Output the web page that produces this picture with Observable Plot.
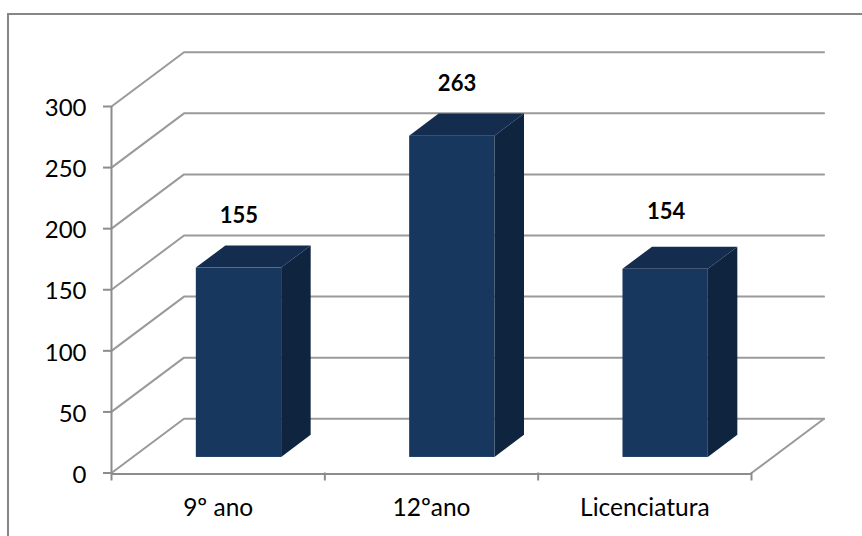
<!DOCTYPE html>
<html>
<head>
<meta charset="utf-8">
<script src="https://cdn.jsdelivr.net/npm/d3@7"></script>
<script src="https://cdn.jsdelivr.net/npm/@observablehq/plot@0.6"></script>
<style>
  html, body { margin: 0; padding: 0; background: #fff; overflow: hidden; }
  #chart { position: relative; width: 862px; height: 536px; }
  #chart svg { position: absolute; left: 0; top: 0; overflow: visible; }
  /* chart area outline: open on the right and bottom sides */
  #outline { position: absolute; left: 7px; top: 13px; right: 0; bottom: 0;
             border-top: 2px solid #868686; border-left: 2px solid #868686; }
</style>
</head>
<body>
<div id="chart"><div id="outline"></div></div>
<script>
// Respondents by education level
const categories = ["9º ano", "12ºano", "Licenciatura"];
const counts = [155, 263, 154];
const valueTicks = [0, 50, 100, 150, 200, 250, 300];

// Oblique projection: a point at depth d (0 front wall, 1 back wall)
// shifts right and upward in data units.
const depthX = 0.34;
const depthY = 44.4;
const project = (x, y, d) => ({x: x + d * depthX, y: y + d * depthY});

// Bars occupy the middle of each slot and a band of the floor's depth
const barStart = 0.30, barEnd = 0.70;
const depthFront = 0.287, depthBack = 0.694;

const gridColor = "#9a9a9a";
const axisColor = "#8c8c8c";
const frontColor = "#17375e";
const topColor = "#142c4e";
const sideColor = "#0f243e";
const font = "Lato, Carlito, sans-serif";

// Wall lines: from the front edge up to the back wall, then across it
const wallLines = valueTicks.flatMap((v) => [
  {v, ...project(0, v, 0)},
  {v, ...project(0, v, 1)},
  {v, ...project(categories.length, v, 1)}
]);
const floorEdge = [project(categories.length, 0, 0), project(categories.length, 0, 1)];

const bars = categories.map((name, i) => ({
  name,
  value: counts[i],
  left: i + barStart,
  right: i + barEnd
}));

const frontFaces = bars.map((b) => ({
  x1: project(b.left, 0, depthFront).x,
  x2: project(b.right, 0, depthFront).x,
  y1: project(0, 0, depthFront).y,
  y2: project(0, b.value, depthFront).y
}));

const sideFaces = bars.flatMap((b) => [depthFront, depthBack].map((d) => ({
  name: b.name,
  x: project(b.right, 0, d).x,
  y1: project(0, 0, d).y,
  y2: project(0, b.value, d).y
})));

const topFaces = bars.flatMap((b) => [depthFront, depthBack].map((d) => ({
  name: b.name,
  y: project(0, b.value, d).y,
  x1: project(b.left, 0, d).x,
  x2: project(b.right, 0, d).x
})));

// Hand-placed value labels sit a little off the bar centre
const labelShiftX = [0, 0.022, 0.002];
const labelShiftY = [0, 0, 4];
const valueLabels = bars.map((b, i) => ({
  text: String(b.value),
  x: project((b.left + b.right) / 2 + labelShiftX[i], 0, depthFront).x,
  y: project(0, b.value + labelShiftY[i], depthBack).y
}));

const plot = Plot.plot({
  width: 862,
  height: 536,
  marginLeft: 111,
  marginRight: 111,
  marginTop: 106,
  marginBottom: 63.5,
  style: {background: "transparent", fontFamily: font},
  x: {domain: [0, categories.length]},
  y: {domain: [0, 300]},
  marks: [
    Plot.line(wallLines, {x: "x", y: "y", z: "v", stroke: gridColor, strokeWidth: 2, curve: "linear"}),
    Plot.line(floorEdge, {x: "x", y: "y", stroke: gridColor, strokeWidth: 2, curve: "linear"}),
    Plot.ruleX([0], {y1: 0, y2: 300, stroke: axisColor, strokeWidth: 2}),
    Plot.ruleY([0], {x1: 0, x2: categories.length, stroke: axisColor, strokeWidth: 2, dy: 1}),
    Plot.areaY(sideFaces, {x: "x", y1: "y1", y2: "y2", z: "name", fill: sideColor, curve: "linear"}),
    Plot.areaX(topFaces, {y: "y", x1: "x1", x2: "x2", z: "name", fill: topColor, curve: "linear"}),
    Plot.rect(frontFaces, {x1: "x1", x2: "x2", y1: "y1", y2: "y2", fill: frontColor}),
    Plot.text(valueLabels, {
      x: "x", y: "y", text: "text", dy: -30,
      fontSize: 22, fontWeight: 700, fill: "#000", fontFamily: font
    }),
    // Tick marks and their labels are drawn apart so the labels can sit slightly lower
    Plot.axisY({
      ticks: valueTicks, tickSize: 8, tickFormat: () => "",
      stroke: axisColor, label: null, strokeWidth: 2
    }),
    Plot.axisY({
      ticks: valueTicks, tickSize: 0, tickPadding: 25, dy: 2,
      fontSize: 24, fill: "#000", label: null, fontFamily: font
    }),
    Plot.axisX({
      ticks: d3.range(categories.length + 1), tickSize: 8, tickFormat: () => "",
      stroke: axisColor, label: null, strokeWidth: 2
    }),
    Plot.axisX({
      ticks: categories.map((_, i) => i + 0.5), tickSize: 0, tickPadding: 26,
      tickFormat: (t) => categories[Math.floor(t)],
      fontSize: 24.5, fill: "#000", label: null, fontFamily: font
    })
  ]
});
document.getElementById("chart").appendChild(plot);
</script>
</body>
</html>
